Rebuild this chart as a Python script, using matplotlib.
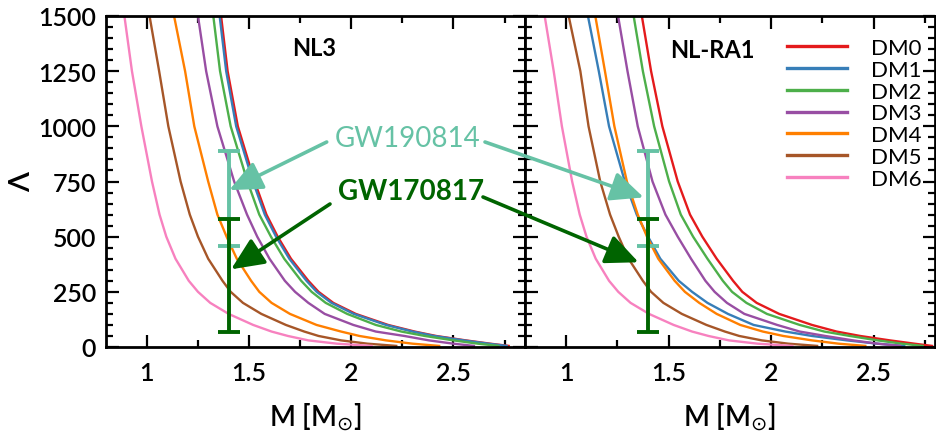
import matplotlib
matplotlib.use("Agg")
import matplotlib.pyplot as plt
from matplotlib.ticker import MultipleLocator, FuncFormatter

plt.rcParams['font.family'] = ['Lato', 'DejaVu Sans']
plt.rcParams['mathtext.fontset'] = 'dejavusans'

# ---------------- data ----------------
lam_levels = [1500, 1250, 1000, 750, 600, 500, 400, 300, 250, 200, 150, 100, 70, 50, 30, 15, 5]
labels = ["DM0", "DM1", "DM2", "DM3", "DM4", "DM5", "DM6"]
colors = ["#e41a1c", "#377eb8", "#4daf4a", "#984ea3", "#ff7f00", "#a65628", "#f781bf"]

# NL3 panel: mass [Msun] at each Lambda level
nl3_dm0 = [1.363, 1.395, 1.445, 1.527, 1.585, 1.640, 1.705, 1.790, 1.840, 1.912, 2.022, 2.180, 2.310, 2.415, 2.560, 2.680, 2.770]
nl3_dm1 = [1.356, 1.388, 1.437, 1.519, 1.577, 1.632, 1.697, 1.781, 1.831, 1.903, 2.012, 2.170, 2.300, 2.405, 2.550, 2.670, 2.760]
nl3_dm2 = [1.325, 1.358, 1.410, 1.492, 1.550, 1.607, 1.672, 1.755, 1.806, 1.875, 1.980, 2.120, 2.245, 2.360, 2.500, 2.620, 2.720]
nl3_dm3 = [1.250, 1.290, 1.345, 1.427, 1.490, 1.540, 1.600, 1.675, 1.725, 1.790, 1.870, 2.010, 2.120, 2.260, 2.380, 2.500, 2.600]
nl3_dm4 = [1.133, 1.187, 1.232, 1.300, 1.345, 1.390, 1.440, 1.510, 1.550, 1.610, 1.700, 1.830, 1.950, 2.040, 2.170, 2.300, 2.430]
nl3_dm5 = [1.013, 1.060, 1.105, 1.165, 1.210, 1.250, 1.300, 1.370, 1.410, 1.470, 1.560, 1.680, 1.770, 1.840, 1.950, 2.080, 2.220]
nl3_dm6 = [0.890, 0.927, 0.973, 1.025, 1.062, 1.095, 1.140, 1.205, 1.250, 1.310, 1.400, 1.520, 1.610, 1.690, 1.790, 1.930, 2.100]

# NL-RA1 panel
ra1_dm0 = [1.370, 1.415, 1.470, 1.545, 1.605, 1.665, 1.735, 1.815, 1.860, 1.930, 2.040, 2.200, 2.320, 2.435, 2.580, 2.700, 2.785]
ra1_dm1 = [1.107, 1.160, 1.210, 1.287, 1.345, 1.400, 1.460, 1.550, 1.615, 1.690, 1.790, 1.915, 2.070, 2.200, 2.370, 2.520, 2.650]
ra1_dm2 = [1.330, 1.375, 1.430, 1.503, 1.560, 1.620, 1.690, 1.765, 1.810, 1.880, 1.980, 2.140, 2.260, 2.385, 2.520, 2.640, 2.740]
ra1_dm3 = [1.254, 1.300, 1.350, 1.422, 1.485, 1.545, 1.610, 1.680, 1.725, 1.785, 1.870, 2.030, 2.140, 2.265, 2.400, 2.520, 2.630]
ra1_dm4 = [1.143, 1.190, 1.236, 1.297, 1.350, 1.395, 1.450, 1.530, 1.580, 1.650, 1.735, 1.850, 1.960, 2.060, 2.200, 2.330, 2.460]
ra1_dm5 = [1.013, 1.070, 1.110, 1.167, 1.215, 1.257, 1.305, 1.375, 1.415, 1.475, 1.565, 1.685, 1.775, 1.845, 1.955, 2.085, 2.225]
ra1_dm6 = [0.896, 0.940, 0.980, 1.030, 1.067, 1.100, 1.145, 1.210, 1.255, 1.315, 1.405, 1.525, 1.615, 1.695, 1.795, 1.935, 2.105]

nl3_curves = [nl3_dm0, nl3_dm1, nl3_dm2, nl3_dm3, nl3_dm4, nl3_dm5, nl3_dm6]
ra1_curves = [ra1_dm0, ra1_dm1, ra1_dm2, ra1_dm3, ra1_dm4, ra1_dm5, ra1_dm6]

# GW constraints on Lambda(1.4)
gw_mass = 1.4
gw170817 = (190, 120, 390)   # central, minus, plus
gw190814 = (616, 158, 273)
c170817 = "#006400"
c190814 = "#66c2a5"

# ---------------- figure ----------------
W, H = 936, 435
fig = plt.figure(figsize=(W / 100, H / 100), dpi=100)
axL = fig.add_axes([106 / W, 87 / H, 419 / W, 331 / H])
axR = fig.add_axes([525 / W, 87 / H, 410 / W, 331 / H])

fmt = FuncFormatter(lambda v, p: "%g" % v)

for ax, curves, xlim in ((axL, nl3_curves, (0.8, 2.85)), (axR, ra1_curves, (0.8, 2.8))):
    for m, c, lab in zip(curves, colors, labels):
        ax.plot(m, lam_levels, color=c, lw=1.7, label=lab)
    ax.errorbar([gw_mass], [gw190814[0]], yerr=[[gw190814[1]], [gw190814[2]]],
                fmt='none', ecolor=c190814, elinewidth=2.8, capsize=8, capthick=2.8)
    ax.errorbar([gw_mass], [gw170817[0]], yerr=[[gw170817[1]], [gw170817[2]]],
                fmt='none', ecolor=c170817, elinewidth=2.8, capsize=8, capthick=2.8)
    ax.set_xlim(*xlim)
    ax.set_ylim(0, 1500)
    ax.xaxis.set_major_locator(MultipleLocator(0.5))
    ax.xaxis.set_minor_locator(MultipleLocator(0.25))
    ax.xaxis.set_major_formatter(fmt)
    ax.yaxis.set_major_locator(MultipleLocator(250))
    ax.yaxis.set_minor_locator(MultipleLocator(50))
    ax.tick_params(which='both', direction='in', top=True, right=True, width=1.6, labelsize=18)
    ax.tick_params(which='major', length=9)
    ax.tick_params(which='minor', length=5)
    ax.tick_params(axis='x', pad=10)
    ax.tick_params(axis='y', pad=7)
    for lab in ax.get_xticklabels() + ax.get_yticklabels():
        lab.set_fontweight('semibold')
    for s in ax.spines.values():
        s.set_linewidth(2.0)
    ax.set_xlabel(r"M [M$_{\odot}$]", fontsize=20, fontweight='semibold')
    ax.xaxis.label.set_va('center')
    ax.xaxis.set_label_coords(0.5, (348 - 417) / 331)

axR.tick_params(axis='y', labelleft=False)
axL.set_ylabel("Λ", fontsize=21, fontweight='semibold')
axL.yaxis.set_label_coords((22 - 106) / 419, 0.5)
axL.yaxis.label.set_va('center')

fig.text(292 / W, 1 - 48 / H, "NL3", fontsize=17, fontweight='bold', va='center', ha='left')
fig.text(670 / W, 1 - 51 / H, "NL-RA1", fontsize=17, fontweight='bold', va='center', ha='left')

leg = axR.legend(loc='upper left', bbox_to_anchor=((787 - 525) / 410, (348 - 39) / 331),
                 frameon=False, prop={'size': 16}, handlelength=2.7,
                 handletextpad=1.1, labelspacing=0.08, borderpad=0, borderaxespad=0)
for l in leg.get_lines():
    l.set_linewidth(2.4)

# annotations
fig.text(407.5 / W, 1 - 139.5 / H, "GW190814", color=c190814, fontsize=20, ha='center', va='center')
fig.text(411.5 / W, 1 - 192.5 / H, "GW170817", color=c170817, fontsize=20, ha='center', va='center',
         fontweight='bold')

def arrow(ax, tip, start, color):
    ax.annotate('', xy=tip, xycoords='data',
                xytext=(start[0], H - start[1]), textcoords='figure pixels',
                arrowprops=dict(arrowstyle='-|>,head_length=1.0,head_width=0.45', color=color,
                                lw=2.6, shrinkA=0, shrinkB=0, mutation_scale=20),
                annotation_clip=False)

arrow(axL, (1.403, 711), (326.7, 143), c190814)
arrow(axR, (1.379, 678), (485, 143), c190814)
arrow(axL, (1.412, 352), (330, 205), c170817)
arrow(axR, (1.354, 384), (483, 198), c170817)

fig.savefig("out.png", dpi=100)
